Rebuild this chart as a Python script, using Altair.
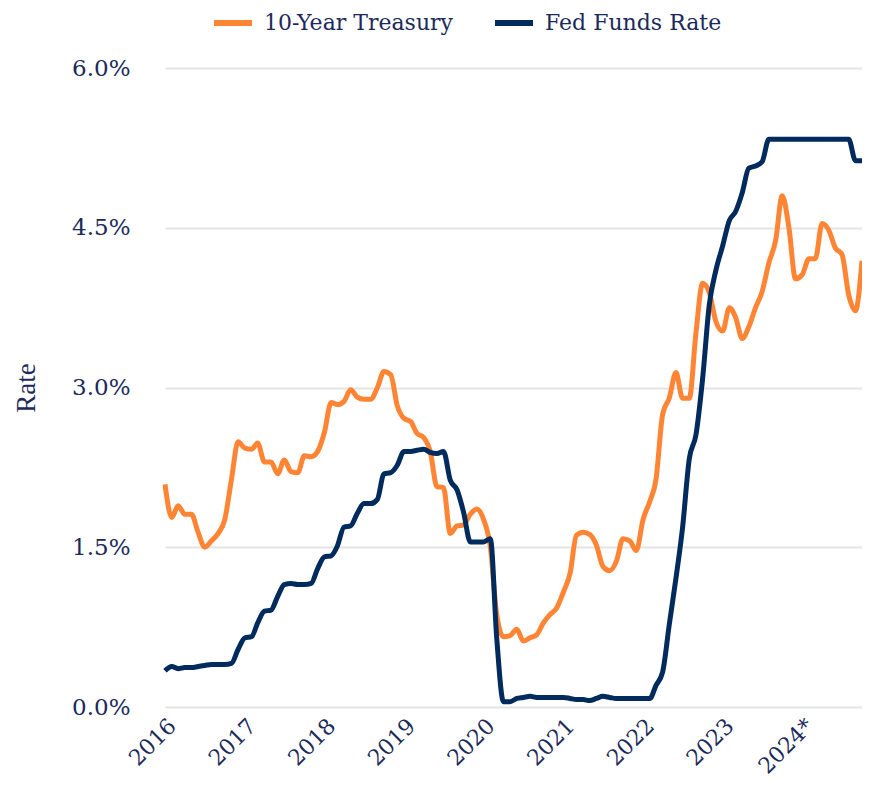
import altair as alt
import pandas as pd

years = list(range(2016, 2025))
months = pd.date_range("2016-01-01", "2024-10-01", freq="MS").strftime("%Y-%m-%d").tolist()

treasury_10y = [
    2.09, 1.78, 1.89, 1.81, 1.81, 1.64, 1.50, 1.56, 1.63, 1.76, 2.14, 2.49,
    2.43, 2.42, 2.48, 2.30, 2.30, 2.19, 2.32, 2.21, 2.20, 2.36, 2.35, 2.40,
    2.58, 2.86, 2.84, 2.87, 2.98, 2.91, 2.89, 2.89, 3.00, 3.15, 3.12, 2.83,
    2.71, 2.68, 2.57, 2.53, 2.40, 2.07, 2.06, 1.63, 1.70, 1.71, 1.81, 1.86,
    1.76, 1.50, 0.87, 0.66, 0.67, 0.73, 0.62, 0.65, 0.68, 0.79, 0.87, 0.93,
    1.08, 1.26, 1.61, 1.64, 1.62, 1.52, 1.32, 1.28, 1.37, 1.58, 1.56, 1.47,
    1.76, 1.93, 2.13, 2.75, 2.90, 3.14, 2.90, 2.90, 3.52, 3.98, 3.89, 3.62,
    3.53, 3.75, 3.66, 3.46, 3.57, 3.75, 3.90, 4.17, 4.38, 4.80, 4.50, 4.02,
    4.06, 4.21, 4.21, 4.54, 4.48, 4.31, 4.25, 3.87, 3.72, 4.19,
]

fed_funds = [
    0.34, 0.38, 0.36, 0.37, 0.37, 0.38, 0.39, 0.40, 0.40, 0.40, 0.41, 0.54,
    0.65, 0.66, 0.79, 0.90, 0.91, 1.04, 1.15, 1.16, 1.15, 1.15, 1.16, 1.30,
    1.41, 1.42, 1.51, 1.69, 1.70, 1.82, 1.91, 1.91, 1.95, 2.19, 2.20, 2.27,
    2.40, 2.40, 2.41, 2.42, 2.39, 2.38, 2.40, 2.13, 2.04, 1.83, 1.55, 1.55,
    1.55, 1.58, 0.65, 0.05, 0.05, 0.08, 0.09, 0.10, 0.09, 0.09, 0.09, 0.09,
    0.09, 0.08, 0.07, 0.07, 0.06, 0.08, 0.10, 0.09, 0.08, 0.08, 0.08, 0.08,
    0.08, 0.08, 0.20, 0.33, 0.77, 1.21, 1.68, 2.33, 2.56, 3.08, 3.78, 4.10,
    4.33, 4.57, 4.65, 4.83, 5.06, 5.08, 5.12, 5.33, 5.33, 5.33, 5.33, 5.33,
    5.33, 5.33, 5.33, 5.33, 5.33, 5.33, 5.33, 5.33, 5.13, 5.13,
]

series_names = ["10-Year Treasury", "Fed Funds Rate"]
series_colors = ["#FF8534", "#002B5C"]
y_ticks = [0, 1.5, 3, 4.5, 6]

df = pd.concat([
    pd.DataFrame({"date": months, "value": treasury_10y, "series": series_names[0]}),
    pd.DataFrame({"date": months, "value": fed_funds, "series": series_names[1]}),
])

TEXT = "#1B2A5A"
FONT = "DejaVu Serif"

chart = alt.Chart(df).mark_line(interpolate="monotone", strokeWidth=5).encode(
    x=alt.X(
        "date:T",
        scale=alt.Scale(
            type="utc",
            domain=[alt.DateTime(year=2016, month=1, date=1, utc=True),
                    alt.DateTime(year=2024, month=10, date=1, utc=True)],
        ),
        axis=alt.Axis(
            values=[alt.DateTime(year=y, month=1, date=1, utc=True) for y in years],
            labelExpr="utcFormat(datum.value, '%Y') + (utcyear(datum.value) == 2024 ? '*' : '')",
            labelAngle=-45, labelAlign="right", labelBaseline="top",
            labelFont=FONT, labelFontSize=22, labelColor=TEXT, labelPadding=8,
            grid=False, domain=False, ticks=False, title=None,
        ),
    ),
    y=alt.Y(
        "value:Q",
        scale=alt.Scale(domain=[0, 6], nice=False, zero=True),
        axis=alt.Axis(
            values=y_ticks,
            labelExpr="format(datum.value, '.1f') + '%'",
            labelFont=FONT, labelFontSize=23, labelColor=TEXT, labelPadding=35,
            grid=True, gridColor="#E4E4E4", gridWidth=2,
            domain=False, ticks=False,
            title="Rate", titleFont="Liberation Serif", titleFontSize=27,
            titleFontWeight="normal", titleColor=TEXT, titlePadding=31,
        ),
    ),
    color=alt.Color(
        "series:N",
        scale=alt.Scale(domain=series_names, range=series_colors),
        legend=alt.Legend(
            title=None, orient="none", direction="horizontal",
            legendX=46, legendY=-67,
            symbolType="stroke", symbolSize=1444, symbolStrokeWidth=6,
            labelFont=FONT, labelFontSize=22, labelColor=TEXT, labelLimit=500,
            labelOffset=9, columnPadding=30,
        ),
    ),
).properties(
    width=697,
    height=639,
    autosize=alt.AutoSizeParams(type="none"),
    padding={"left": 157, "top": 60, "right": 0, "bottom": 72},
).configure_view(stroke=None)

chart.save("out.html", embed_options={"renderer": "svg", "actions": False})
